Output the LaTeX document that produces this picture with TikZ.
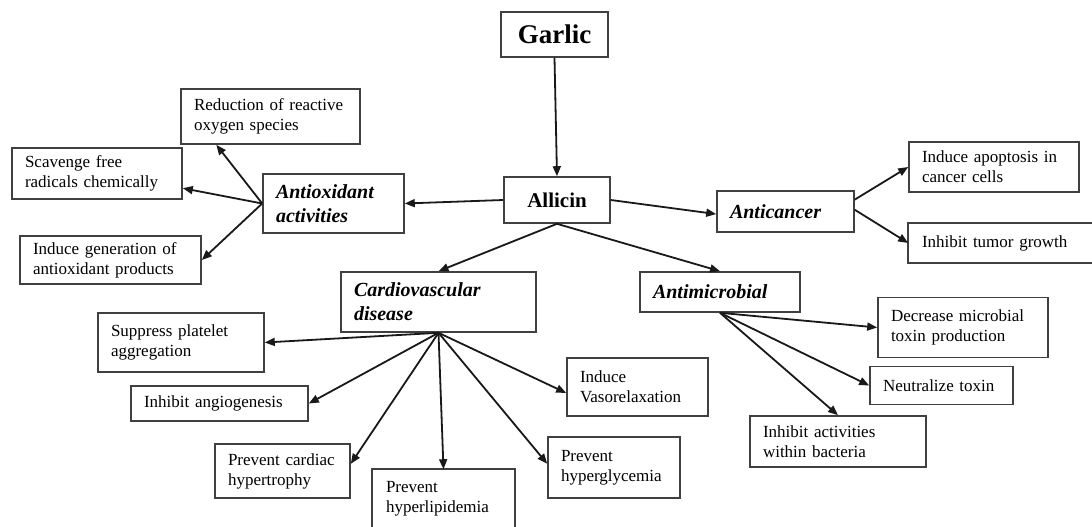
\documentclass[tikz,border=0pt]{standalone}
\usepackage{fontspec}
\setmainfont{Liberation Serif}
\usetikzlibrary{arrows.meta,calc}
\begin{document}
\begin{tikzpicture}[x=1pt,y=-1pt,
  box/.style={draw=black!75, line width=1.6pt, rectangle, inner xsep=13pt, inner ysep=0pt,
    align=left, font=\fontsize{17}{20}\selectfont},
  hbox/.style={box, font=\fontsize{20}{24}\selectfont\bfseries\itshape},
  openbox/.style={box, draw=none},
  edge/.style={draw=black!75, line width=1.6pt},
  arr/.style={-{Triangle[length=10pt,width=8pt]}, line width=1.8pt, black!90}]
\useasboundingbox (0,0) rectangle (1092,527);
\fill[white] (0,0) rectangle (1092,527);

% top
\node[box, align=center, inner xsep=0pt, minimum width=107pt, minimum height=45pt,
  font=\fontsize{27}{30}\selectfont\bfseries] (garlic) at (554.5,34.5) {Garlic};
\node[box, align=center, inner xsep=0pt, minimum width=106pt, minimum height=46pt,
  font=\fontsize{21}{24}\selectfont\bfseries] (allicin) at (557,200) {Allicin};

% antioxidant
\node[hbox, text width=115pt, minimum height=59pt] (antiox) at (333.5,203.5) {Antioxidant\\activities};
\node[box, text width=153pt, minimum height=55pt] (reduction) at (270.5,116.5) {Reduction of reactive\\oxygen species};
\node[box, text width=144pt, minimum height=51pt] (scavenge) at (97,173.5) {Scavenge free\\radicals chemically};
\node[box, text width=155pt, minimum height=48pt] (inducegen) at (110.5,260) {Induce generation of\\antioxidant products};

% anticancer
\node[hbox, text width=111pt, minimum height=41pt] (anticancer) at (785.5,211.5) {Anticancer};
\node[box, text width=144pt, minimum height=50pt] (apoptosis) at (994,167) {Induce apoptosis in\\cancer cells};
\node[openbox, text width=157pt, minimum height=38pt] (tumor) at (1000.5,243) {Inhibit tumor growth};
\draw[edge] ($(tumor.north east)+(1,0)$) -- (tumor.north west) -- (tumor.south west) -- ($(tumor.south east)+(1,0)$);

% cardiovascular
\node[hbox, text width=169pt, minimum height=60pt] (cardio) at (438.5,302) {Cardiovascular\\disease};
\node[box, text width=140pt, minimum height=59pt] (suppress) at (181,342.5) {Suppress platelet\\aggregation};
\node[box, text width=151pt, minimum height=35pt] (angio) at (219.5,403.5) {Inhibit angiogenesis};
\node[box, text width=109pt, minimum height=54pt] (cardiac) at (282.5,471) {Prevent cardiac\\hypertrophy};
\node[openbox, text width=115pt, minimum height=58pt] (lipid) at (443.5,499) {Prevent\\hyperlipidemia};
\draw[edge] ($(lipid.south west)+(0,2)$) -- (lipid.north west) -- (lipid.north east) -- ($(lipid.south east)+(0,2)$);
\node[box, text width=106pt, minimum height=61pt] (glyc) at (614,467.5) {Prevent\\hyperglycemia};
\node[box, text width=115pt, minimum height=58pt] (vaso) at (637.5,387) {Induce\\Vasorelaxation};

% antimicrobial
\node[hbox, text width=134pt, minimum height=40pt] (micro) at (720,292) {Antimicrobial};
\node[box, text width=144pt, minimum height=60pt] (decrease) at (963,327.5) {Decrease microbial\\toxin production};
\node[box, text width=117pt, minimum height=38pt] (neutral) at (941.5,385.5) {Neutralize toxin};
\node[box, text width=150pt, minimum height=51pt] (inhact) at (838,441.5) {Inhibit activities\\within bacteria};

% connectors
\draw[arr] (garlic.south) -- (allicin.north);
\draw[arr] (allicin.west) -- (antiox.east);
\draw[arr] (allicin.east) -- ($(anticancer.north west)!0.56!(anticancer.south west)$);
\draw[arr] (allicin.south) -- (cardio.north);
\draw[arr] (allicin.south) -- (micro.north);

\draw[arr] (antiox.west) -- ($(reduction.south west)!0.2!(reduction.south east)$);
\draw[arr] (antiox.west) -- ($(scavenge.north east)!0.78!(scavenge.south east)$);
\draw[arr] (antiox.west) -- (inducegen.east);

\draw[arr] ($(anticancer.north east)!0.22!(anticancer.south east)$) -- (apoptosis.west);
\draw[arr] ($(anticancer.north east)!0.46!(anticancer.south east)$) -- (tumor.west);

\draw[arr] (cardio.south) -- (suppress.east);
\draw[arr] (cardio.south) -- (angio.east);
\draw[arr] (cardio.south) -- ($(cardiac.north east)!0.37!(cardiac.south east)$);
\draw[arr] (cardio.south) -- (lipid.north);
\draw[arr] (cardio.south) -- ($(glyc.north west)!0.44!(glyc.south west)$);
\draw[arr] (cardio.south) -- ($(vaso.north west)!0.6!(vaso.south west)$);

\draw[arr] (micro.south) -- (decrease.west);
\draw[arr] (micro.south) -- (neutral.west);
\draw[arr] (micro.south) -- (inhact.north);
\end{tikzpicture}
\end{document}
